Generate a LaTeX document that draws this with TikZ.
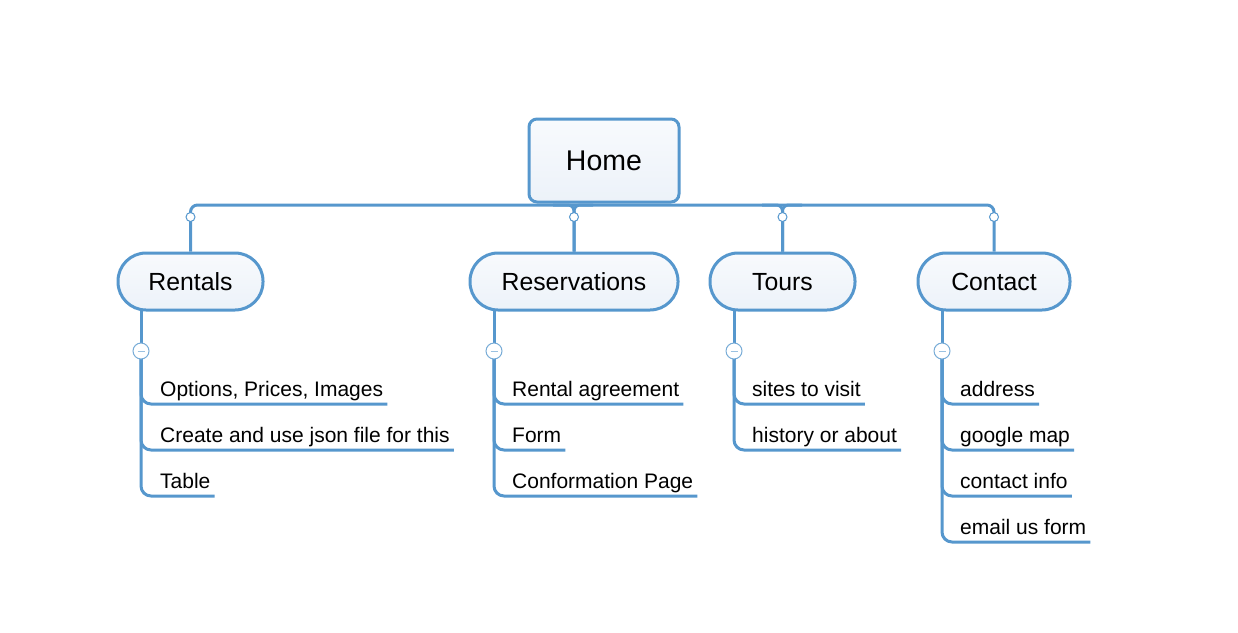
\documentclass[tikz,border=0pt]{standalone}
\usepackage{fontspec}
\setmainfont{Liberation Sans}
\definecolor{lineblue}{RGB}{86,151,205}
\definecolor{boxtop}{RGB}{248,250,253}
\definecolor{boxbot}{RGB}{236,242,249}
\begin{document}
\begin{tikzpicture}[x=1pt,y=-1pt,
  conn/.style={draw=lineblue,line width=3pt},
  homebox/.style={draw=lineblue,line width=3pt,rounded corners=8pt,top color=boxtop,bottom color=boxbot,minimum width=150pt,minimum height=83pt,inner sep=0pt,text height=20.5pt,text depth=0.5pt,font=\fontsize{28.5}{30}\selectfont},
  childbox/.style={draw=lineblue,line width=3pt,rounded corners=28pt,top color=boxtop,bottom color=boxbot,minimum height=57pt,inner sep=0pt,text height=17.9pt,text depth=0.5pt,font=\fontsize{24.8}{26}\selectfont},
  leaf/.style={anchor=base west,inner sep=0pt,font=\fontsize{21}{22}\selectfont},
  dot/.style={circle,draw=lineblue,fill=white,line width=1pt,minimum size=9pt,inner sep=0pt},
  toggle/.style={circle,draw=lineblue!80,fill=white,line width=1pt,minimum size=16pt,inner sep=0pt},
]
\useasboundingbox (0,0) rectangle (1238,632);

\coordinate (busL) at (190,205);

\node[homebox] (home) at (604,160.5) {Home};
\node[childbox,minimum width=145pt] (rent) at (190.5,281.5) {Rentals};
\node[childbox,minimum width=208pt] (resv) at (574,281.5) {Reservations};
\node[childbox,minimum width=145pt] (tour) at (782.5,281.5) {Tours};
\node[childbox,minimum width=152pt] (cont) at (994,281.5) {Contact};

% bus connectors
\draw[conn,rounded corners=7pt] (rent.north) |- (busL -| home.south) -| (cont.north);
\coordinate (b2l) at (553,205);
\coordinate (b2r) at (593,205);
\coordinate (b3l) at (762,205);
\coordinate (b3r) at (802,205);
\draw[conn,rounded corners=6pt] (b2l) -| (resv.north);
\draw[conn,rounded corners=6pt] (b2r) -| (resv.north);
\draw[conn,rounded corners=6pt] (b3l) -| (tour.north);
\draw[conn,rounded corners=6pt] (b3r) -| (tour.north);

\node[dot] (d1) at (rent.north |- 0,217) {};
\node[dot] (d2) at (resv.north |- 0,217) {};
\node[dot] (d3) at (tour.north |- 0,217) {};
\node[dot] (d4) at (cont.north |- 0,217) {};

% leaves - Rentals
\node[leaf] (r1) at (160,396) {Options, Prices, Images};
\node[leaf] (r2) at (160,442) {Create and use json file for this};
\node[leaf] (r3) at (160,488) {Table};
% Reservations
\node[leaf] (s1) at (512,396) {Rental agreement};
\node[leaf] (s2) at (512,442) {Form};
\node[leaf] (s3) at (512,488) {Conformation Page};
% Tours
\node[leaf] (t1) at (752,396) {sites to visit};
\node[leaf] (t2) at (752,442) {history or about};
% Contact
\node[leaf] (c1) at (960,396) {address};
\node[leaf] (c2) at (960,442) {google map};
\node[leaf] (c3) at (960,488) {contact info};
\node[leaf] (c4) at (960,534) {email us form};

% trunks and underlines
\foreach \tx/\leaves in {141/{r1,r2,r3},494/{s1,s2,s3},734/{t1,t2},942/{c1,c2,c3,c4}}{
  \draw[conn] (\tx,310) -- (\tx,360);
  \foreach \lf in \leaves {
    \draw[conn,rounded corners=10pt] (\tx,350) |- ([xshift=4pt,yshift=-8pt]\lf.base east);
  }
}

% toggles
\foreach \tx/\nm in {141/g1,494/g2,734/g3,942/g4}{
  \node[toggle] (\nm) at (\tx,351) {};
  \draw[lineblue!60,line width=0.8pt] ([xshift=-3.5pt]\nm.center) -- ([xshift=3.5pt]\nm.center);
}
\end{tikzpicture}
\end{document}
